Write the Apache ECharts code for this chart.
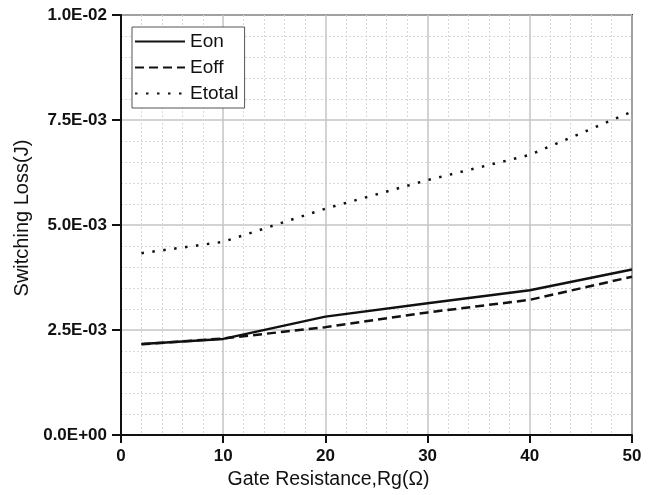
<!DOCTYPE html>
<html>
<head>
<meta charset="utf-8">
<script src="https://cdn.jsdelivr.net/npm/echarts@6/dist/echarts.min.js"></script>
<style>
html,body{margin:0;padding:0;background:#fff;}
#c{width:656px;height:495px;}
</style>
</head>
<body>
<div id="c"></div>
<script>
// Data
var rg = [2, 10, 20, 30, 40, 50];
var eon = [2.17e-3, 2.29e-3, 2.82e-3, 3.14e-3, 3.45e-3, 3.94e-3];
var eoff = [2.16e-3, 2.30e-3, 2.57e-3, 2.92e-3, 3.22e-3, 3.77e-3];
var etotal = [4.33e-3, 4.60e-3, 5.39e-3, 6.07e-3, 6.67e-3, 7.70e-3];
var seriesNames = ['Eon', 'Eoff', 'Etotal'];
var xTicks = [0, 10, 20, 30, 40, 50];
var yTicks = [0, 0.0025, 0.005, 0.0075, 0.01];

function pairs(xs, ys) { return xs.map(function (x, i) { return [x, ys[i]]; }); }
function fmtE(v) {
  var s = Number(v).toExponential(1);
  var parts = s.split('e');
  var exp = parseInt(parts[1], 10);
  var sign = exp < 0 ? '-' : '+';
  var a = Math.abs(exp);
  return parts[0] + 'E' + sign + (a < 10 ? '0' + a : '' + a);
}

var chart = echarts.init(document.getElementById('c'), null, {renderer: 'canvas'});
var font = 'Liberation Sans, Arial, sans-serif';
var option = {
  animation: false,
  backgroundColor: '#fff',
  textStyle: {fontFamily: font},
  grid: {left: 121, right: 24, top: 15, bottom: 58, show: true, borderColor: '#3a3a3a', borderWidth: 2, backgroundColor: 'transparent'},
  legend: {
    data: seriesNames,
    orient: 'vertical',
    left: 132, top: 27,
    itemWidth: 50, itemHeight: 20, itemGap: 7,
    padding: [5, 6, 5, 2],
    borderColor: '#555', borderWidth: 1, backgroundColor: '#fff',
    itemStyle: {opacity: 0},
    textStyle: {fontSize: 19, color: '#111', fontFamily: font}
  },
  xAxis: {
    type: 'value', min: xTicks[0], max: xTicks[xTicks.length - 1], interval: 10,
    name: 'Gate Resistance,Rg(Ω)', nameLocation: 'middle', nameGap: 30,
    nameTextStyle: {fontSize: 19.5, color: '#111', fontFamily: font, padding: [0, 96, 0, 0]},
    axisLine: {show: true, lineStyle: {color: '#111', width: 2}},
    axisTick: {show: true, inside: false, length: 8, lineStyle: {color: '#111', width: 2}},
    axisLabel: {fontSize: 17, fontWeight: 'bold', color: '#111', margin: 13, fontFamily: font},
    splitLine: {show: true, lineStyle: {color: '#c4c4c4', width: 1.5}},
    minorTick: {show: false, splitNumber: 5},
    minorSplitLine: {show: true, lineStyle: {color: '#d8d8d8', width: 1, type: [2, 2]}}
  },
  yAxis: {
    type: 'value', min: yTicks[0], max: yTicks[yTicks.length - 1], interval: 0.0025,
    name: 'Switching Loss(J)', nameLocation: 'middle', nameGap: 89, nameRotate: 90,
    nameTextStyle: {fontSize: 20, color: '#111', fontFamily: font, padding: [0, 0, 0, 14]},
    axisLine: {show: true, lineStyle: {color: '#111', width: 2}},
    axisTick: {show: true, inside: false, length: 9, lineStyle: {color: '#111', width: 2}},
    axisLabel: {fontSize: 17, fontWeight: 'bold', color: '#111', margin: 14, fontFamily: font, formatter: fmtE},
    splitLine: {show: true, lineStyle: {color: '#c4c4c4', width: 1.5}},
    minorTick: {show: false, splitNumber: 5},
    minorSplitLine: {show: true, lineStyle: {color: '#d8d8d8', width: 1, type: [2, 2]}}
  },
  series: [
    {name: seriesNames[0], type: 'line', symbol: 'none', data: pairs(rg, eon),
     lineStyle: {color: '#111', width: 2.5, type: 'solid'}, itemStyle: {color: '#111'}},
    {name: seriesNames[1], type: 'line', symbol: 'none', data: pairs(rg, eoff),
     lineStyle: {color: '#111', width: 2.5, type: [9, 5]}, itemStyle: {color: '#111'}},
    {name: seriesNames[2], type: 'line', symbol: 'none', data: pairs(rg, etotal),
     lineStyle: {color: '#111', width: 2.5, type: [2.5, 8.5]}, itemStyle: {color: '#111'}}
  ]
};
chart.setOption(option);
</script>
</body>
</html>
